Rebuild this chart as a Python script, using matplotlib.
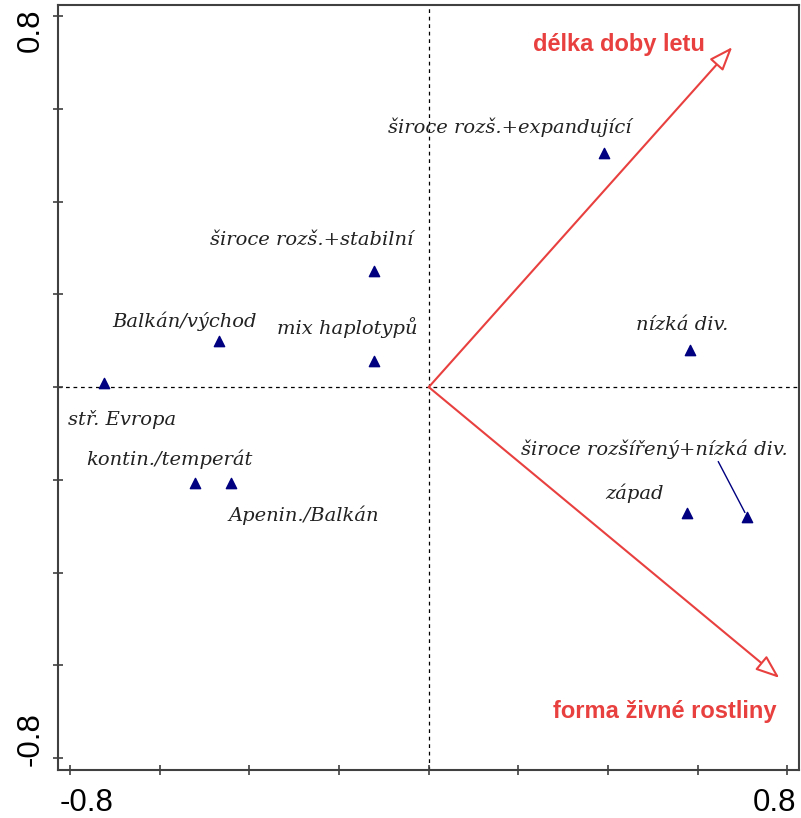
import numpy as np
import matplotlib.pyplot as plt
import matplotlib.transforms as mtransforms

# species groups (triangles)
labels = ["široce rozš.+expandující", "široce rozš.+stabilní", "mix haplotypů",
          "Balkán/východ", "stř. Evropa", "kontin./temperát", "Apenin./Balkán",
          "nízká div.", "západ", "široce rozšířený+nízká div."]
x_vals = [0.39, -0.123, -0.123, -0.468, -0.724, -0.521, -0.441, 0.582, 0.575, 0.711]
y_vals = [0.504, 0.25, 0.056, 0.099, 0.009, -0.207, -0.207, 0.080, -0.272, -0.280]

# label positions (left edge, vertical centre)
label_x = [-0.09, -0.488, -0.339, -0.705, -0.805, -0.765, -0.446, 0.463, 0.394, 0.205]
label_y = [0.561, 0.318, 0.129, 0.142, -0.069, -0.155, -0.276, 0.133, -0.229, -0.135]

# environmental variables (arrows)
env_names = ["délka doby letu", "forma živné rostliny"]
env_x = [0.677, 0.782]
env_y = [0.733, -0.627]
env_label_x = [0.233, 0.277]
env_label_y = [0.738, -0.699]

red = "#e8403f"

fig, ax = plt.subplots(figsize=(8.01, 8.18), dpi=100)
fig.subplots_adjust(left=0.073, right=0.997, top=0.994, bottom=0.059)

ax.axhline(0, color="black", lw=0.9, ls=(0, (3, 3)), zorder=1)
ax.axvline(0, color="black", lw=0.9, ls=(0, (3, 3)), zorder=1)

for ex, ey in zip(env_x, env_y):
    ax.annotate("", xy=(ex, ey), xytext=(0, 0),
                arrowprops=dict(arrowstyle="-|>,head_length=1.45,head_width=0.55",
                                fc="white", ec=red, lw=1.5,
                                shrinkA=0, shrinkB=0), zorder=2)
for name, lx, ly in zip(env_names, env_label_x, env_label_y):
    ax.text(lx, ly, name, color=red, fontsize=17, fontweight="bold",
            family="Liberation Sans", va="center", ha="left")

ax.scatter(x_vals, y_vals, marker="^", s=55, color="#000080", zorder=3)

for lab, lx, ly in zip(labels, label_x, label_y):
    ax.text(lx, ly, lab, fontsize=14, style="italic", family="DejaVu Serif",
            color="#222222", va="center", ha="left")

# connector line for the last label
ax.plot([0.646, 0.705], [-0.161, -0.27], color="#000080", lw=1.0)

ax.set_xlim(-0.826, 0.825)
ax.set_ylim(-0.825, 0.824)

ticks = np.round(np.arange(-0.8, 0.81, 0.2), 1)
tick_labels = ["-0.8"] + [""] * 7 + ["0.8"]
ax.set_xticks(ticks)
ax.set_xticklabels(tick_labels)
ax.set_yticks(ticks)
ax.set_yticklabels(tick_labels, rotation=90, va="center")
ax.tick_params(direction="inout", length=7, width=1.2, color="#404040",
               labelsize=22.5)
ax.tick_params(axis="x", pad=10)
ax.tick_params(axis="y", pad=6)

# end labels sit a little inward from their ticks
x_shift = [16, -13]
y_shift = [19, -14]
xl = ax.get_xticklabels()
yl = ax.get_yticklabels()
for lab, dx in zip([xl[0], xl[-1]], x_shift):
    lab.set_transform(lab.get_transform() + mtransforms.ScaledTranslation(dx / 100, 0, fig.dpi_scale_trans))
for lab, dy in zip([yl[0], yl[-1]], y_shift):
    lab.set_transform(lab.get_transform() + mtransforms.ScaledTranslation(0, dy / 100, fig.dpi_scale_trans))
for lab in xl + yl:
    lab.set_family("Liberation Sans")

for sp in ax.spines.values():
    sp.set_color("#404040")
    sp.set_linewidth(1.5)

fig.savefig("out.png", dpi=100)
